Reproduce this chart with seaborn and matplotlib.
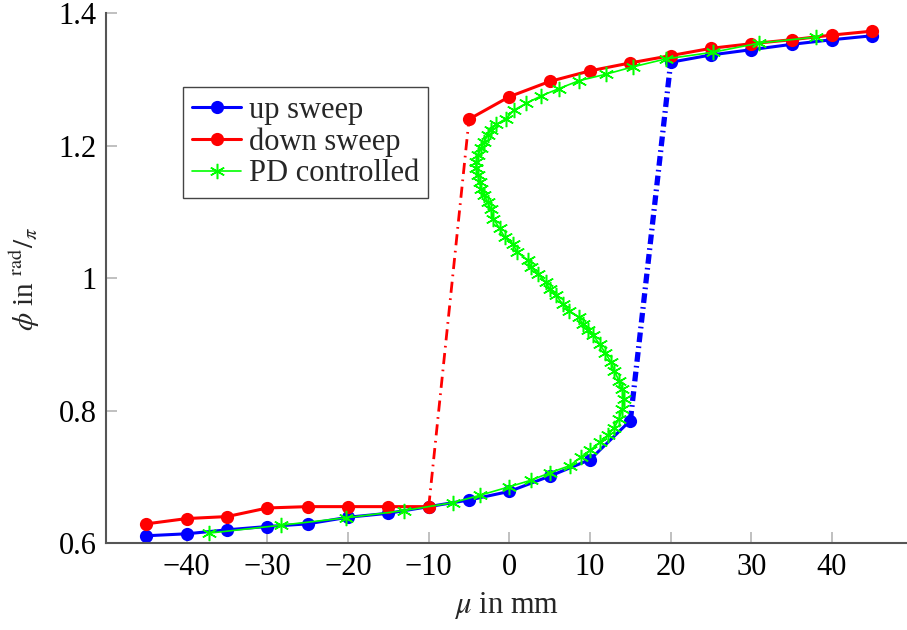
import matplotlib
matplotlib.use("Agg")
import matplotlib.pyplot as plt
import seaborn as sns
import pandas as pd

# sweep positions (mm) and measured phase (rad/pi)
mu_sweep = [-45, -40, -35, -30, -25, -20, -15, -10, -5, 0, 5, 10, 15, 20, 25, 30, 35, 40, 45]
phi_up = [0.611, 0.614, 0.620, 0.625, 0.629, 0.639, 0.645, 0.655, 0.665, 0.678, 0.701, 0.726,
          0.785, 1.326, 1.337, 1.345, 1.353, 1.360, 1.366]
phi_down = [0.629, 0.637, 0.640, 0.653, 0.655, 0.655, 0.655, 0.655, 1.240, 1.274, 1.297, 1.313,
            1.325, 1.336, 1.347, 1.354, 1.360, 1.367, 1.373]
jump_up = 12    # up sweep jumps after this index
jump_down = 7   # down sweep jumps after this index

# PD controlled continuation
mu_pd = [-37.2, -28.3, -20.3, -13.1, -7.0, -3.7, 0.0, 2.7, 5.0, 7.5, 8.9, 10.0, 11.2, 12.2, 13.0,
         13.6, 14.0, 14.2, 14.0, 13.6, 13.0, 12.6, 11.9, 11.2, 10.4, 9.8, 9.1, 8.6, 7.4, 6.6, 5.8,
         5.0, 4.5, 3.5, 2.7, 2.3, 1.0, 0.4, -0.6, -1.2, -2.0, -2.3, -2.7, -3.1, -3.5, -3.7, -3.9,
         -4.1, -4.1, -3.9, -3.5, -3.1, -2.7, -2.3, -1.6, -0.4, 0.6, 2.1, 3.9, 6.1, 8.6, 12.0, 15.3,
         19.4, 25.2, 31.0, 38.0]
phi_pd = [0.615, 0.627, 0.638, 0.649, 0.661, 0.672, 0.685, 0.695, 0.706, 0.717, 0.730, 0.740,
          0.752, 0.763, 0.774, 0.788, 0.802, 0.817, 0.833, 0.845, 0.860, 0.873, 0.887, 0.900,
          0.914, 0.922, 0.931, 0.941, 0.951, 0.961, 0.974, 0.984, 0.994, 1.007, 1.017, 1.027,
          1.039, 1.052, 1.062, 1.075, 1.090, 1.104, 1.115, 1.125, 1.135, 1.145, 1.155, 1.166,
          1.176, 1.186, 1.196, 1.206, 1.216, 1.224, 1.232, 1.241, 1.254, 1.264, 1.275, 1.286,
          1.298, 1.308, 1.319, 1.331, 1.341, 1.355, 1.364]

xticks = [-40, -30, -20, -10, 0, 10, 20, 30, 40]
yticks = [0.6, 0.8, 1.0, 1.2, 1.4]
ytick_labels = ["0.6", "0.8", "1", "1.2", "1.4"]

sns.set_theme(style="white")
plt.rcParams["font.family"] = ["Liberation Serif", "DejaVu Serif"]
plt.rcParams["mathtext.fontset"] = "stix"
plt.rcParams["lines.scale_dashes"] = False

up = pd.DataFrame({"mu": mu_sweep, "phi": phi_up})
down = pd.DataFrame({"mu": mu_sweep, "phi": phi_down})
pd_df = pd.DataFrame({"mu": mu_pd, "phi": phi_pd})

fig = plt.figure(figsize=(9.07, 6.3), dpi=100)
ax = fig.add_axes([0.117, 0.138, 0.883, 0.841])

blue, red, green = "#0000ff", "#ff0000", "#00ff00"
mk = dict(marker="o", markersize=9.5, markeredgewidth=0, estimator=None, sort=False)

# up sweep
sns.lineplot(data=up.iloc[:jump_up + 1], x="mu", y="phi", color=blue, linewidth=2.2,
             markerfacecolor=blue, label="up sweep", ax=ax, **mk)
sns.lineplot(data=up.iloc[jump_up + 1:], x="mu", y="phi", color=blue, linewidth=2.2,
             markerfacecolor=blue, label="_nolegend_", ax=ax, **mk)
ax.plot(up["mu"].iloc[jump_up:jump_up + 2], up["phi"].iloc[jump_up:jump_up + 2],
        color=blue, linewidth=3.8, dashes=(7, 3, 1.2, 3))

# down sweep
sns.lineplot(data=down.iloc[:jump_down + 1], x="mu", y="phi", color=red, linewidth=2.2,
             markerfacecolor=red, label="down sweep", ax=ax, **mk)
sns.lineplot(data=down.iloc[jump_down + 1:], x="mu", y="phi", color=red, linewidth=2.2,
             markerfacecolor=red, label="_nolegend_", ax=ax, **mk)
ax.plot(down["mu"].iloc[jump_down:jump_down + 2], down["phi"].iloc[jump_down:jump_down + 2],
        color=red, linewidth=2.0, dashes=(8, 4, 1.2, 4))

# PD controlled
sns.lineplot(data=pd_df, x="mu", y="phi", color=green, linewidth=1.2, marker=(6, 2, 0),
             markersize=11, markeredgewidth=1.1, markeredgecolor=green, estimator=None,
             sort=False, label="PD controlled", ax=ax)

ax.set_xlim(-50, 49.3)
ax.set_ylim(0.6, 1.4)
ax.set_xticks(xticks)
ax.set_xticklabels([f"{t}".replace("-", "\u2212") for t in xticks])
ax.set_yticks(yticks)
ax.set_yticklabels(ytick_labels)
ax.tick_params(bottom=True, left=True, direction="in", length=8, width=1.2, color="#b5b5b5",
               labelsize=22, labelcolor="black", pad=7)

for s in ["top", "right"]:
    ax.spines[s].set_visible(False)
for s in ["left", "bottom"]:
    ax.spines[s].set_color("#555555")
    ax.spines[s].set_linewidth(1.5)

ax.set_xlabel(r"$\mu$ in mm", fontsize=22, labelpad=6)
ax.set_ylabel(r"$\phi$ in $^{\mathrm{rad}}/_{\pi}$", fontsize=21, labelpad=12)

leg = ax.legend(loc="upper left", bbox_to_anchor=(0.096, 0.861), borderaxespad=0,
                fontsize=22, frameon=True, fancybox=False, framealpha=1,
                handlelength=1.6, handletextpad=0.25, labelspacing=0.08, borderpad=0.3)
leg.get_frame().set_edgecolor("#444444")
leg.get_frame().set_linewidth(1.0)

fig.savefig("out.png", dpi=100)
